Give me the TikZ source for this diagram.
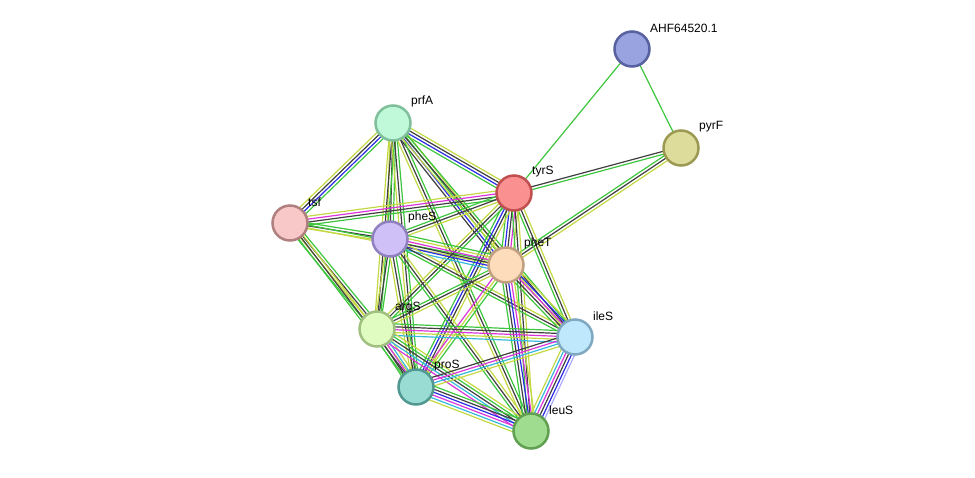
\documentclass[tikz,border=0pt]{standalone}
\usepackage{fontspec}
\setmainfont{Liberation Sans}
\usetikzlibrary{calc,backgrounds}
% evidence channel colours
\definecolor{nbG}{HTML}{3DC63D}
\definecolor{tmY}{HTML}{C4D844}
\definecolor{coK}{HTML}{3F3F3F}
\definecolor{ocB}{HTML}{2B2BE6}
\definecolor{exM}{HTML}{DA35DA}
\definecolor{dbC}{HTML}{35B8DC}
\definecolor{hmP}{HTML}{A9A9FF}
\tikzset{
 str node/.style={circle,draw,line width=2.5pt,minimum size=35pt,inner sep=0pt},
 str label/.style={font=\fontsize{12}{14}\selectfont,inner sep=0pt,label distance=1pt,
                   xshift=4pt,yshift=2pt},
 str line/.style={line width=1.2pt}
}
% one edge = a bundle of parallel strands, one per colour
\newcommand\stredge[3]{%
 \foreach \c [count=\n] in {#3} {\xdef\nstrands{\n}}%
 \foreach \c [count=\i] in {#3} {%
   \pgfmathsetmacro\off{(\i-(\nstrands+1)/2)*2.9}%
   \draw[str line,\c] ($(#1)!\off pt!90:(#2)$) -- ($(#2)!\off pt!-90:(#1)$);
 }}

\begin{document}
\begin{tikzpicture}[x=1pt,y=-1pt]
 \useasboundingbox (0,0) rectangle (975,477);
 \node[str node,fill={rgb,255:red,153;green,163;blue,223},draw={rgb,255:red,87;green,97;blue,160},
   label={[str label]45:AHF64520.1}] (AHF) at (632,49) {};
 \node[str node,fill={rgb,255:red,222;green,220;blue,154},draw={rgb,255:red,156;green,154;blue,82},
   label={[str label]45:pyrF}] (pyrF) at (681,148) {};
 \node[str node,fill={rgb,255:red,192;green,248;blue,218},draw={rgb,255:red,127;green,191;blue,154},
   label={[str label]45:prfA}] (prfA) at (393,123) {};
 \node[str node,fill={rgb,255:red,250;green,144;blue,144},draw={rgb,255:red,192;green,80;blue,80},
   label={[str label]45:tyrS}] (tyrS) at (514,193) {};
 \node[str node,fill={rgb,255:red,248;green,200;blue,200},draw={rgb,255:red,176;green,128;blue,128},
   label={[str label]45:tsf}] (tsf) at (290,223) {};
 \node[str node,fill={rgb,255:red,208;green,192;blue,248},draw={rgb,255:red,144;green,128;blue,192},
   label={[str label]45:pheS}] (pheS) at (390,239) {};
 \node[str node,fill={rgb,255:red,253;green,220;blue,188},draw={rgb,255:red,192;green,160;blue,128},
   label={[str label]45:pheT}] (pheT) at (506,265) {};
 \node[str node,fill={rgb,255:red,224;green,252;blue,192},draw={rgb,255:red,160;green,192;blue,128},
   label={[str label]45:argS}] (argS) at (377,329) {};
 \node[str node,fill={rgb,255:red,192;green,232;blue,252},draw={rgb,255:red,128;green,168;blue,192},
   label={[str label]45:ileS}] (ileS) at (575,337) {};
 \node[str node,fill={rgb,255:red,152;green,220;blue,212},draw={rgb,255:red,80;green,152;blue,144},
   label={[str label]45:proS}] (proS) at (416,387) {};
 \node[str node,fill={rgb,255:red,160;green,220;blue,144},draw={rgb,255:red,96;green,160;blue,80},
   label={[str label]45:leuS}] (leuS) at (531,431) {};

 \begin{scope}[on background layer]
  \stredge{AHF}{tyrS}{nbG}
  \stredge{AHF}{pyrF}{nbG}
  \stredge{pyrF}{tyrS}{coK,nbG}
  \stredge{pyrF}{pheT}{nbG,coK,tmY}
  \stredge{prfA}{tsf}{tmY,coK,ocB,nbG}
  \stredge{prfA}{tyrS}{nbG,ocB,coK,tmY}
  \stredge{prfA}{pheS}{tmY,coK,nbG}
  \stredge{prfA}{pheT}{coK,ocB,nbG,tmY}
  \stredge{prfA}{argS}{tmY,coK,nbG}
  \stredge{prfA}{proS}{tmY,coK,nbG}
  \stredge{prfA}{leuS}{tmY,coK,nbG}
  \stredge{prfA}{ileS}{tmY,coK,nbG}
  \stredge{tsf}{tyrS}{nbG,coK,exM,tmY}
  \stredge{tsf}{pheS}{tmY,coK,nbG}
  \stredge{tsf}{pheT}{tmY,nbG}
  \stredge{tsf}{argS}{nbG,tmY,coK,nbG}
  \stredge{tsf}{proS}{nbG,coK,tmY}
  \stredge{tyrS}{pheS}{nbG,coK,tmY}
  \stredge{tyrS}{pheT}{nbG,ocB,coK,exM,tmY}
  \stredge{tyrS}{argS}{tmY,coK,nbG}
  \stredge{tyrS}{proS}{nbG,ocB,coK,tmY}
  \stredge{tyrS}{ileS}{nbG,coK,tmY}
  \stredge{tyrS}{leuS}{nbG,coK,tmY}
  \stredge{pheS}{pheT}{dbC,ocB,coK,exM,tmY,nbG}
  \stredge{pheS}{argS}{tmY,coK,nbG}
  \stredge{pheS}{proS}{tmY,coK,nbG}
  \stredge{pheS}{ileS}{nbG,coK,tmY}
  \stredge{pheS}{leuS}{nbG,coK,tmY}
  \stredge{pheT}{argS}{nbG,coK,tmY}
  \stredge{pheT}{proS}{exM,tmY,nbG}
  \stredge{pheT}{ileS}{nbG,coK,exM,ocB,tmY}
  \stredge{pheT}{leuS}{nbG,coK,ocB,exM,tmY}
  \stredge{argS}{ileS}{dbC,tmY,exM,coK,nbG}
  \stredge{argS}{proS}{nbG,coK,exM,dbC,tmY}
  \stredge{argS}{leuS}{exM,dbC,coK,nbG,tmY}
  \stredge{proS}{ileS}{tmY,dbC,exM,coK}
  \stredge{proS}{leuS}{tmY,dbC,exM,ocB,coK,nbG}
  \stredge{ileS}{leuS}{tmY,dbC,exM,coK,ocB,hmP}
 \end{scope}
\end{tikzpicture}
\end{document}
